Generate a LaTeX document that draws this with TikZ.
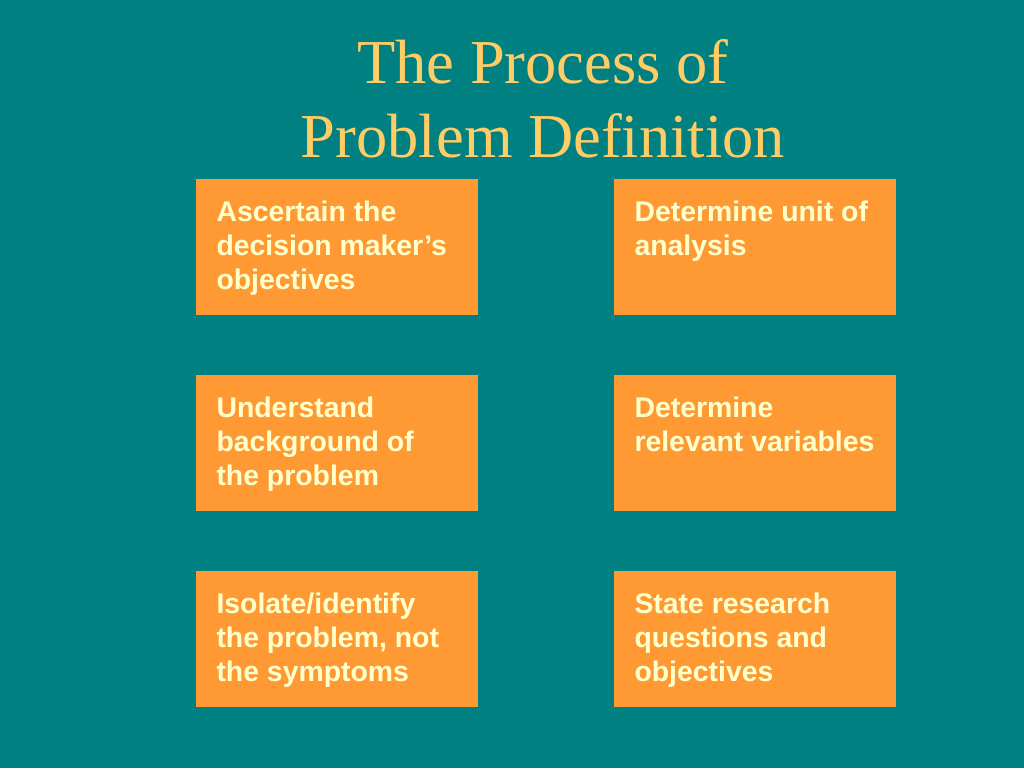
\documentclass[tikz,border=0pt]{standalone}
\usepackage{fontspec}
\setmainfont{Liberation Serif}
\newfontfamily\boxfont{Liberation Sans}
\usetikzlibrary{calc}
\definecolor{bgteal}{HTML}{008080}
\definecolor{boxorange}{HTML}{FF9933}
\definecolor{boxtext}{HTML}{FFFFCC}
\definecolor{titlecol}{HTML}{FFCC66}
\tikzset{
  stepbox/.style={fill=boxorange, draw=none, minimum width=282pt, minimum height=136pt, inner sep=0pt},
  boxtxt/.style={anchor=north west, inner sep=0pt, align=left, text=boxtext,
    font=\boxfont\bfseries\fontsize{28.4}{34}\selectfont},
  titletxt/.style={anchor=base, inner sep=0pt, text=titlecol, font=\fontsize{62.5}{74}\selectfont}
}
\begin{document}
\begin{tikzpicture}[x=1pt,y=1pt]
\fill[bgteal] (0,0) rectangle (1024,-768);
\useasboundingbox (0,0) rectangle (1024,-768);
\node[titletxt] (t1) at (543,-83) {The Process of};
\node[titletxt] (t2) at (543,-157) {Problem Definition};
\node[stepbox] (b1) at (337,-247) {};
\node[stepbox] (b2) at (755,-247) {};
\node[stepbox] (b3) at (337,-443) {};
\node[stepbox] (b4) at (755,-443) {};
\node[stepbox] (b5) at (337,-639) {};
\node[stepbox] (b6) at (755,-639) {};
\node[boxtxt] (x1) at ($(b1.north west)+(20.5,-22)$) {Ascertain the\\decision maker’s\\objectives};
\node[boxtxt] (x2) at ($(b2.north west)+(20.5,-22)$) {Determine unit of\\analysis};
\node[boxtxt] (x3) at ($(b3.north west)+(20.5,-22)$) {Understand\\background of\\the problem};
\node[boxtxt] (x4) at ($(b4.north west)+(20.5,-22)$) {Determine\\relevant variables};
\node[boxtxt] (x5) at ($(b5.north west)+(20.5,-22)$) {Isolate/identify\\the problem, not\\the symptoms};
\node[boxtxt] (x6) at ($(b6.north west)+(20.5,-22)$) {State research\\questions and\\objectives};
\end{tikzpicture}
\end{document}
